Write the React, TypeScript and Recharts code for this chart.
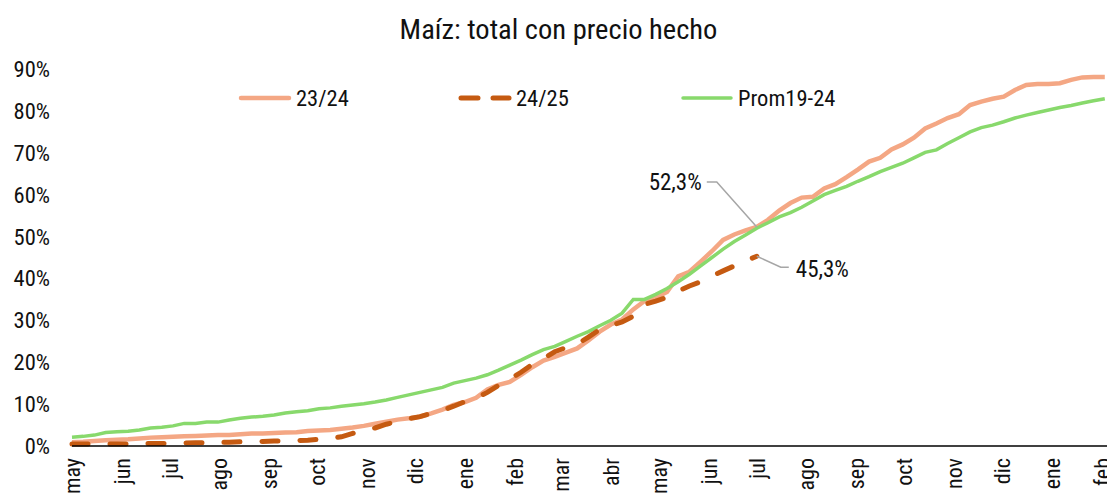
import React from 'react';
import { LineChart, Line, XAxis, YAxis } from 'recharts';

const FONT = "'Roboto Condensed', Roboto, 'Liberation Sans Narrow', sans-serif";

const monthLabels = ['may', 'jun', 'jul', 'ago', 'sep', 'oct', 'nov', 'dic', 'ene', 'feb', 'mar', 'abr', 'may', 'jun', 'jul', 'ago', 'sep', 'oct', 'nov', 'dic', 'ene', 'feb'];
const monthStartDays = [0, 31, 61, 92, 123, 153, 184, 214, 245, 276, 305, 336, 366, 397, 427, 458, 489, 519, 550, 580, 611, 642];
const yTicks = [0, 10, 20, 30, 40, 50, 60, 70, 80, 90];

// weekly values (%), one per week starting in May
const s2324 = [
  0.9, 1.0, 1.2, 1.4, 1.5, 1.6, 1.8, 2.0, 2.1, 2.2,
  2.3, 2.4, 2.5, 2.6, 2.6, 2.8, 3.0, 3.0, 3.1, 3.2,
  3.3, 3.6, 3.7, 3.8, 4.1, 4.4, 4.8, 5.3, 5.8, 6.3,
  6.6, 7.0, 7.8, 8.7, 9.8, 10.5, 11.5, 13.5, 14.6, 15.3,
  17.0, 18.8, 20.4, 21.3, 22.3, 23.3, 25.2, 27.3, 29.0, 30.2,
  32.6, 34.6, 35.5, 36.8, 40.5, 41.6, 44.0, 46.5, 49.2, 50.5,
  51.5, 52.3, 54.0, 56.2, 58.0, 59.3, 59.5, 61.5, 62.5, 64.2,
  66.0, 67.9, 68.8, 70.8, 72.0, 73.6, 75.8, 77.0, 78.3, 79.2,
  81.4, 82.2, 82.9, 83.4, 85.0, 86.2, 86.4, 86.4, 86.6, 87.4,
  88.0, 88.1, 88.1,
];

const s2425 = [
  0.5, 0.5, 0.5, 0.5, 0.5, 0.5, 0.6, 0.6, 0.6, 0.6,
  0.7, 0.8, 0.8, 0.9, 0.9, 1.0, 1.0, 1.1, 1.2, 1.2,
  1.3, 1.4, 1.6, 1.8, 2.2, 3.0, 3.8, 4.3, 5.2, 5.9,
  6.5, 7.0, 7.8, 8.5, 9.5, 10.6, 11.5, 12.8, 14.5, 16.0,
  17.6, 19.5, 20.9, 22.5, 23.5, 24.3, 26.0, 27.8, 28.8, 29.6,
  31.0, 33.8, 34.6, 35.5, 37.0, 38.2, 39.2, 40.6, 41.8, 43.0,
  44.2, 45.3,
];

const prom = [
  2.1, 2.3, 2.6, 3.2, 3.4, 3.5, 3.8, 4.3, 4.5, 4.8,
  5.4, 5.4, 5.7, 5.7, 6.2, 6.6, 6.9, 7.1, 7.4, 7.9,
  8.2, 8.4, 8.9, 9.1, 9.5, 9.8, 10.1, 10.5, 11.0, 11.6,
  12.2, 12.8, 13.4, 14.0, 15.0, 15.6, 16.2, 17.0, 18.1, 19.3,
  20.5, 21.8, 23.0, 23.8, 25.0, 26.2, 27.3, 28.7, 30.0, 31.7,
  35.0, 35.0, 36.2, 37.6, 39.2, 41.0, 43.0, 45.0, 47.0, 48.8,
  50.4, 52.0, 53.3, 54.7, 55.7, 57.0, 58.5, 60.0, 61.0, 62.0,
  63.2, 64.3, 65.5, 66.5, 67.5, 68.8, 70.1, 70.7, 72.2, 73.6,
  75.0, 76.0, 76.6, 77.4, 78.3, 79.0, 79.6, 80.2, 80.8, 81.3,
  81.9, 82.4, 82.9,
];

const labelIndex = s2425.length - 1;

const data = s2324.map((v, i) => ({
  day: i * 7,
  s2324: v,
  prom: prom[i],
  s2425: i < s2425.length ? s2425[i] : null,
}));

const C2324 = '#F4A784';
const C2425 = '#C55A11';
const CPROM = '#88D96C';

const fmt = (v: number) => v.toFixed(1).replace('.', ',') + '%';

const XTick = (props: any) => {
  const { x, y, index } = props;
  return (
    <text
      transform={`translate(${x},${y}) rotate(-90)`}
      textAnchor="end"
      dy="0.36em"
      fontSize={22}
      fontFamily={FONT}
      fill="#111"
    >
      {monthLabels[index]}
    </text>
  );
};

const label2324 = (props: any) => {
  const { x, y, index, value } = props;
  if (index !== labelIndex) return null;
  return (
    <g>
      <polyline
        points={`${x},${y} ${x - 40},${y - 45} ${x - 50},${y - 45}`}
        fill="none"
        stroke="#A6A6A6"
        strokeWidth={1.5}
      />
      <text x={x - 55} y={y - 44} textAnchor="end" dominantBaseline="central" fontSize={23} fontFamily={FONT} fill="#111">
        {fmt(value)}
      </text>
    </g>
  );
};

const label2425 = (props: any) => {
  const { x, y, index, value } = props;
  if (index !== labelIndex) return null;
  return (
    <g>
      <polyline
        points={`${x},${y} ${x + 24},${y + 11} ${x + 32},${y + 11}`}
        fill="none"
        stroke="#A6A6A6"
        strokeWidth={1.5}
      />
      <text x={x + 39} y={y + 13} textAnchor="start" dominantBaseline="central" fontSize={23} fontFamily={FONT} fill="#111">
        {fmt(value)}
      </text>
    </g>
  );
};

const legendItems = [
  { name: '23/24', color: C2324, dash: undefined as string | undefined, width: 4.5, x: 230 },
  { name: '24/25', color: C2425, dash: '17 15', width: 5, x: 450 },
  { name: 'Prom19-24', color: CPROM, dash: undefined as string | undefined, width: 3.5, x: 672 },
];

const Legend2 = () => (
  <svg width={1107} height={30} style={{ position: 'absolute', left: 0, top: 75 }}>
    {legendItems.map((it) => (
      <g key={it.name}>
        <line
          x1={it.x + 3}
          x2={it.x + 51}
          y1={15}
          y2={15}
          stroke={it.color}
          strokeWidth={it.width}
          strokeDasharray={it.dash}
          strokeLinecap="round"
        />
        <text x={it.x + 58} y={15} dominantBaseline="central" fontSize={22.5} fontFamily={FONT} fill="#111">
          {it.name}
        </text>
      </g>
    ))}
  </svg>
);

export default function App() {
  return (
    <div style={{ position: 'relative', width: 1107, height: 490, fontFamily: FONT }}>
      <div
        style={{
          position: 'absolute',
          top: 6,
          left: 0,
          width: 1101,
          textAlign: 'center',
          fontSize: 28.5,
          lineHeight: '32px',
          color: '#111',
        }}
      >
        Maíz: total con precio hecho
      </div>
      <LineChart width={1107} height={490} data={data} margin={{ top: 61, right: 7, bottom: 0, left: 0 }}>
        <XAxis
          dataKey="day"
          type="number"
          domain={[0, 646]}
          ticks={monthStartDays}
          interval={0}
          tickLine={false}
          axisLine={{ stroke: '#000', strokeWidth: 1.5 }}
          tick={<XTick />}
          height={52}
          tickSize={6}
          tickMargin={6}
        />
        <YAxis
          type="number"
          domain={[0, 90]}
          ticks={yTicks}
          interval={0}
          axisLine={false}
          tickLine={false}
          width={64}
          tickSize={6}
          tickMargin={16}
          tickFormatter={(v: number) => `${v}%`}
          tick={{ fill: '#111', fontSize: 22.5, fontFamily: FONT }}
        />
        <Line
          type="linear"
          dataKey="s2324"
          stroke={C2324}
          strokeWidth={4.5}
          dot={false}
          activeDot={false}
          isAnimationActive={false}
          label={label2324}
        />
        <Line
          type="linear"
          dataKey="prom"
          stroke={CPROM}
          strokeWidth={3.5}
          dot={false}
          activeDot={false}
          isAnimationActive={false}
        />
        <Line
          type="linear"
          dataKey="s2425"
          stroke={C2425}
          strokeWidth={5}
          strokeDasharray="16 22"
          strokeLinecap="round"
          dot={false}
          activeDot={false}
          isAnimationActive={false}
          label={label2425}
        />
      </LineChart>
      <Legend2 />
    </div>
  );
}
